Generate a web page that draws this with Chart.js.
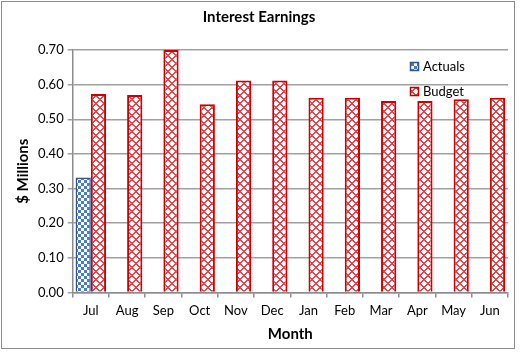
<!DOCTYPE html>
<html lang="en">
<head>
  <meta charset="UTF-8">
  <title>Interest Earnings</title>
  <script src="https://cdn.jsdelivr.net/npm/chart.js@4.4.0/dist/chart.umd.min.js"></script>
  <style>
    html, body { margin: 0; padding: 0; background: #fff; }
    #wrap { width: 520px; height: 352px; }
  </style>
</head>
<body>
  <div id="wrap"><canvas id="chart" width="520" height="352"></canvas></div>
  <script>
    // chart data
    const months = ['Jul', 'Aug', 'Sep', 'Oct', 'Nov', 'Dec', 'Jan', 'Feb', 'Mar', 'Apr', 'May', 'Jun'];
    const actuals = [0.332, null, null, null, null, null, null, null, null, null, null, null];
    const budget = [0.573, 0.570, 0.700, 0.543, 0.612, 0.612, 0.562, 0.562, 0.553, 0.553, 0.558, 0.562];
    const yTicks = [0, 0.1, 0.2, 0.3, 0.4, 0.5, 0.6, 0.7];

    const FONT = 'Lato, "Open Sans", sans-serif';

    // blue checkerboard
    function checkPattern() {
      const c = document.createElement('canvas');
      c.width = 6; c.height = 6;
      const g = c.getContext('2d');
      g.fillStyle = '#ffffff';
      g.fillRect(0, 0, 6, 6);
      g.fillStyle = '#4a7cc4';
      g.fillRect(0, 0, 3, 3);
      g.fillRect(3, 3, 3, 3);
      return g.createPattern(c, 'repeat');
    }

    // red diagonal weave
    function weavePattern() {
      const c = document.createElement('canvas');
      c.width = 8; c.height = 8;
      const g = c.getContext('2d');
      g.fillStyle = '#ffffff';
      g.fillRect(0, 0, 8, 8);
      g.fillStyle = '#e2464b';
      for (let i = 0; i < 4; i++) {
        // down-right strokes, top-left and bottom-right quarters
        g.fillRect(i, i, 2, 1);
        g.fillRect(4 + i, 4 + i, 2, 1);
        // up-right strokes, top-right and bottom-left quarters
        g.fillRect(6 - i, i, 2, 1);
        g.fillRect(2 - i, 4 + i, 2, 1);
      }
      return g.createPattern(c, 'repeat');
    }

    const blueFill = checkPattern();
    const redFill = weavePattern();

    // legend drawn inside the plot, plus outer frame
    const extras = {
      id: 'extras',
      afterDraw(chart) {
        const ctx = chart.ctx;
        ctx.save();
        ctx.strokeStyle = '#8c8c8c';
        ctx.lineWidth = 1;
        ctx.strokeRect(1.5, 1.5, 513, 347);
        const items = [
          { label: 'Actuals', fill: blueFill, border: '#2f5597', y: 67 },
          { label: 'Budget', fill: redFill, border: '#c00000', y: 92 }
        ];
        ctx.font = '13px ' + FONT;
        ctx.textBaseline = 'middle';
        items.forEach(it => {
          ctx.fillStyle = '#ffffff';
          ctx.fillRect(410, it.y - 5, 9, 9);
          ctx.fillStyle = it.fill;
          ctx.fillRect(410, it.y - 5, 9, 9);
          ctx.strokeStyle = it.border;
          ctx.lineWidth = 1.5;
          ctx.strokeRect(410.5, it.y - 4.5, 8, 8);
          ctx.fillStyle = '#000000';
          ctx.fillText(it.label, 423, it.y);
        });
        ctx.restore();
      }
    };

    new Chart(document.getElementById('chart'), {
      type: 'bar',
      data: {
        labels: months,
        datasets: [
          {
            label: 'Actuals',
            data: actuals,
            backgroundColor: blueFill,
            borderColor: '#2f5597',
            borderWidth: 1.5,
            categoryPercentage: 0.84,
            barPercentage: 1.0
          },
          {
            label: 'Budget',
            data: budget,
            backgroundColor: redFill,
            borderColor: '#d00000',
            borderWidth: 2,
            categoryPercentage: 0.84,
            barPercentage: 1.0
          }
        ]
      },
      options: {
        responsive: false,
        animation: false,
        layout: { padding: { left: 10, right: 12, top: 6, bottom: 5 } },
        plugins: {
          legend: { display: false },
          tooltip: { enabled: false },
          title: {
            display: true,
            text: 'Interest Earnings',
            color: '#000',
            font: { family: FONT, size: 15, weight: 'bold' },
            padding: { top: 2, bottom: 24 }
          }
        },
        scales: {
          x: {
            offset: true,
            grid: {
              display: true,
              drawOnChartArea: false,
              offset: true,
              color: '#8c8c8c',
              lineWidth: 1.5,
              tickLength: 5
            },
            border: { color: '#8c8c8c', width: 1.5 },
            ticks: { color: '#000', font: { family: FONT, size: 13 }, padding: 6 },
            title: {
              display: true,
              text: 'Month',
              color: '#000',
              font: { family: FONT, size: 15, weight: 'bold' },
              padding: { top: 0 }
            }
          },
          y: {
            min: 0,
            max: 0.7,
            afterBuildTicks(axis) { axis.ticks = yTicks.map(v => ({ value: v })); },
            grid: { color: '#a0a0a0', lineWidth: 1.5, tickLength: 5 },
            border: { color: '#8c8c8c', width: 1.5 },
            ticks: {
              color: '#000',
              font: { family: FONT, size: 13 },
              padding: 4,
              callback: v => v.toFixed(2)
            },
            title: {
              display: true,
              text: '$ Millions',
              color: '#000',
              font: { family: FONT, size: 15, weight: 'bold' },
              padding: { bottom: 2 }
            }
          }
        }
      },
      plugins: [extras]
    });
  </script>
</body>
</html>
